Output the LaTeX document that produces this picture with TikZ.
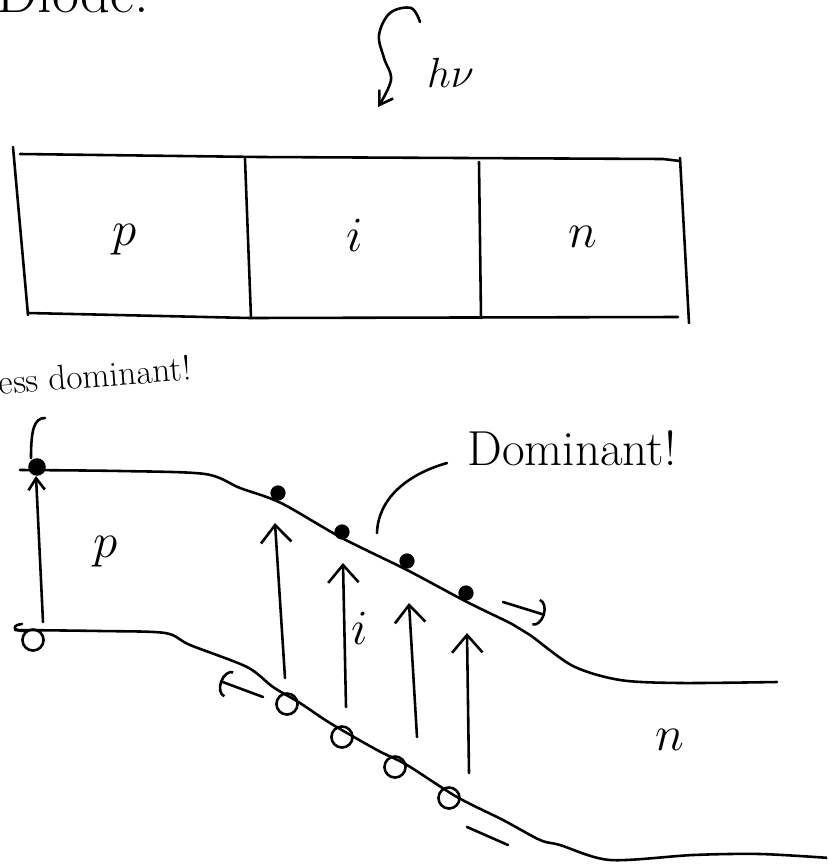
\RequirePackage{fix-cm}
\documentclass[tikz,border=0pt]{standalone}
\usepackage{amsmath,amssymb}
\usetikzlibrary{arrows.meta}

\begin{document}
\begin{tikzpicture}[x=0.03cm,y=-0.03cm,line width=2.2pt,line cap=round,line join=round,
    lbl/.style={font=\fontsize{42}{42}\selectfont},
    elec/.style={circle,fill=black,inner sep=0pt,minimum size=13pt},
    hole/.style={circle,draw,line width=2.2pt,inner sep=0pt,minimum size=18pt},
    gen/.style={-{Straight Barb[length=15pt,width=26pt]}},
    drift/.style={-{Arc Barb[length=8pt,width=24pt]}}]
    \useasboundingbox (0,0) rectangle (827,864);
    \clip (0,0) rectangle (827,864);

    % Titulo (cortado)
    \node[font=\fontsize{50}{50}\selectfont,anchor=base west,inner sep=0pt] (titulo) at (-5,12) {Diode:};

    % Foton
    \draw[-{Straight Barb[length=11pt,width=14pt]}] plot[smooth,tension=0.6] coordinates
        {(420,22) (411,8) (390,13) (379,35) (384,58) (391,80) (378,107)};
    \node[font=\fontsize{36}{36}\selectfont,anchor=base west] (foton) at (422,87) {$h\nu$};

    % Caixa p-i-n
    \draw (13,147) -- (28,315);
    \draw (20,154) -- (260,157) -- (663,159) -- (680,161);
    \draw (28,313) -- (250,318) -- (678,317);
    \draw (680,158) -- (689,323);
    \draw (245,159) -- (251,318);
    \draw (479,162) -- (481,318);
    \node[lbl] (cp) at (125,240) {$p$};
    \node[lbl] (ci) at (355,235) {$i$};
    \node[lbl] (cn) at (583,237) {$n$};

    % Textos
    \node[font=\fontsize{30}{30}\selectfont,anchor=base west,rotate=4.5] (menos) at (-14,396) {less dominant!};
    \node[font=\fontsize{42}{42}\selectfont,anchor=base] (dom) at (572,465) {Dominant!};

    % Bandas
    \draw plot[smooth,tension=0.5] coordinates
        {(20,470) (120,471) (205,474) (240,488) (281,503) (342,538) (407,570) (467,602)
         (512,624) (530,635) (573,666) (620,680) (680,683) (777,682)};
    \draw plot[smooth,tension=0.5] coordinates
        {(15,630) (100,631) (165,633) (190,645) (247,667) (273,687) (300,703) (330,723)
         (377,750) (407,765) (457,797) (503,820) (540,840) (560,845) (610,860) (693,855)
         (760,854) (830,858)};
    \node[lbl] (bp) at (106,552) {$p$};
    \node[lbl] (bi) at (360,628) {$i$};
    \node[lbl] (bn) at (670,740) {$n$};

    % Eletrons e buracos
    \foreach \n/\x/\y in {1/278/493, 2/342/532, 3/407/561, 4/466/593}
        \node[elec] (e\n) at (\x,\y) {};
    \foreach \n/\x/\y in {1/287/704, 2/342/737, 3/395/767, 4/449/798}
        \node[hole] (h\n) at (\x,\y) {};
    \node[elec,minimum size=15pt] (e0) at (37,467) {};
    \node[hole] (h0) at (33,640) {};
    \draw (45,418) .. controls (34,418) and (31,430) .. (31,458);
    \draw (22,624) .. controls (12,625) and (12,631) .. (24,631);

    % Geracao
    \foreach \n/\xa/\ya/\xb/\yb in {1/285/678/275/523, 2/346/707/343/563, 3/417/737/409/603, 4/469/773/467/633}{
        \coordinate (g\n a) at (\xa,\ya);
        \coordinate (g\n b) at (\xb,\yb);
        \draw[gen] (g\n a) -- (g\n b);
    }
    \coordinate (ga) at (43,622);
    \coordinate (gb) at (36,476);
    \draw[-{Straight Barb[length=10pt,width=14pt]}] (ga) -- (gb);

    % Deriva
    \coordinate (de) at (503,602);
    \coordinate (df) at (545,615);
    \draw[drift] (de) -- (df);
    \coordinate (dh) at (263,697);
    \coordinate (di) at (220,681);
    \draw[drift] (dh) -- (di);
    \draw (467,827) -- (508,845);

    % Seta do texto
    \coordinate (ptr) at (377,533);
    \coordinate (ptrb) at (447,463);
    \draw (ptr) .. controls (378,500) and (405,475) .. (ptrb);
\end{tikzpicture}
\end{document}
